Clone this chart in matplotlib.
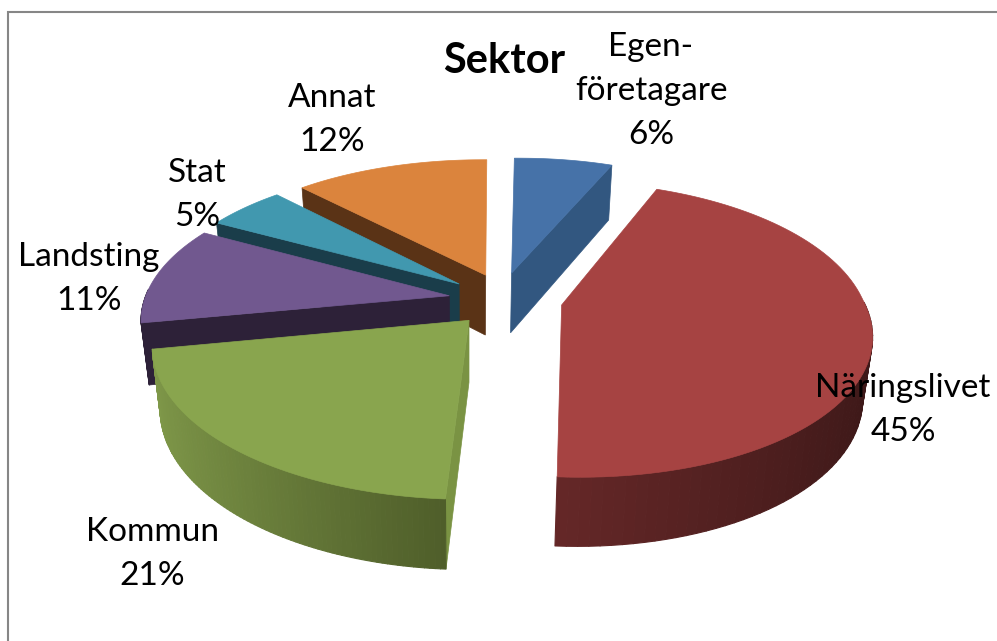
import numpy as np
import matplotlib
matplotlib.use('Agg')
import matplotlib.pyplot as plt
from matplotlib.colors import to_rgb
from matplotlib.patches import Polygon
from matplotlib.collections import PolyCollection

plt.rcParams['font.family'] = ['Lato', 'DejaVu Sans']

# Data
labels = ['Egen-\nföretagare', 'Näringslivet', 'Kommun', 'Landsting', 'Stat', 'Annat']
values = [6, 45, 21, 11, 5, 12]
title = 'Sektor'

# Style, one entry per slice
top_colors = ['#4672a8', '#a64342', '#89a54e', '#71588f', '#4198af', '#db843d']
face_colors = ['#325780', '#5e2424', '#7a9343', '#2d2138', '#1a3d4a', '#5a3316']
wall_light = ['#325780', '#642727', '#7f9849', '#2d2138', '#1a3d4a', '#5a3316']
wall_dark = ['#325780', '#3c1818', '#4f5e2a', '#2d2138', '#1a3d4a', '#5a3316']
explode_x = [0.14, 0.305, 0.0, -0.065, -0.033, 0.055]
explode_y = [0.196, -0.035, -0.14, 0.03, 0.115, 0.18]
visible_face = [1, None, 0, 0, 0, 0]  # 0 start edge, 1 end edge
draw_order = [5, 4, 3, 0, 1, 2]
label_pos = [(651, 91), (903, 410), (152, 554), (89, 279), (197, 195), (332, 120)]

# Projection settings, in pixels
CX, CY = 469, 300
RX, RY = 305, 142
PERSP = 0.165
DEPTH = 61
SHRINK = 0.025
FAR_SHIFT = 12


def project(x, y, z=0.0):
    x = np.asarray(x, dtype=float)
    y = np.asarray(y, dtype=float)
    s = 1 / (1 + PERSP * y)
    rx = np.where(x > 0, RX * 0.99, RX)
    # far right side sits a little further right than plain perspective gives
    shift = FAR_SHIFT * np.clip(y, 0, None) * np.clip(x / 0.2, 0, 1)
    sx = CX + rx * x * s * (1 - SHRINK * z) + shift
    sy = CY - RY * y * s * (1 - SHRINK * z) + DEPTH * z * s
    return np.column_stack([sx, sy])


fig = plt.figure(figsize=(9.97, 6.41), dpi=100)
ax = fig.add_axes([0, 0, 1, 1])
ax.set_xlim(0, 997)
ax.set_ylim(641, 0)
ax.axis('off')

# chart frame, right and bottom are cut off in the picture
ax.plot([8, 8, 1000], [660, 12, 12], color='#868686', lw=1.5, solid_joinstyle='miter')

edges = np.cumsum([0] + values) / sum(values) * 2 * np.pi

for i in draw_order:
    t = np.linspace(edges[i], edges[i + 1], 90)
    ex, ey = explode_x[i], explode_y[i]
    xs = ex + np.sin(t)
    ys = ey + np.cos(t)

    # cut face going inwards
    if visible_face[i] is not None:
        k = 0 if visible_face[i] == 0 else -1
        quad = np.vstack([project([ex, xs[k]], [ey, ys[k]], 0.0),
                          project([xs[k], ex], [ys[k], ey], 1.0)])
        ax.add_patch(Polygon(quad, closed=True, fc=face_colors[i], ec=face_colors[i], lw=0.5))

    # outer wall, only the near side is seen
    near = np.cos(t) < 0.05
    if near.sum() > 1:
        tn = t[near]
        xn, yn = xs[near], ys[near]
        upper = project(xn, yn, 0.0)
        lower = project(xn, yn, 1.0)
        quads = [[upper[j], upper[j + 1], lower[j + 1], lower[j]] for j in range(len(tn) - 1)]
        c0, c1 = np.array(to_rgb(wall_light[i])), np.array(to_rgb(wall_dark[i]))
        # the wall goes darker towards the right of the picture
        frac = (np.sin(tn[:-1]) + 1) / 2
        frac = (frac - frac.min()) / max(frac.max() - frac.min(), 1e-6)
        cols = [c0 + (c1 - c0) * f for f in frac]
        ax.add_collection(PolyCollection(quads, facecolors=cols, edgecolors=cols, linewidths=0.8))

    # top surface
    top = np.vstack([project([ex], [ey]), project(xs, ys)])
    ax.add_patch(Polygon(top, closed=True, fc=top_colors[i], ec=top_colors[i], lw=0.5))

ax.text(504, 61, title, ha='center', va='center', fontsize=30, fontweight='bold', color='black', zorder=10)

for lab, val, (x, y) in zip(labels, values, label_pos):
    ax.text(x, y, f'{lab}\n{val}%', ha='center', va='center', fontsize=24,
            linespacing=1.6, color='black', zorder=10)

fig.savefig('out.png', dpi=100)
